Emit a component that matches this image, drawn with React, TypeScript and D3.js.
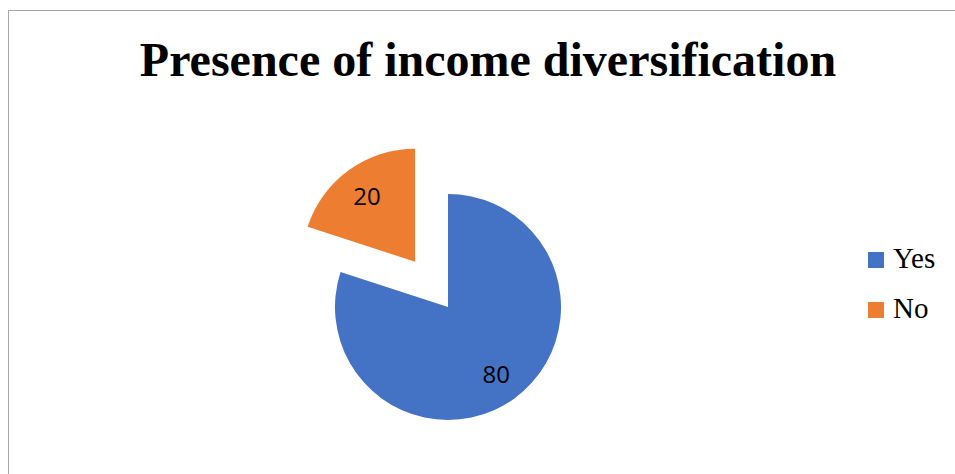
import React from "react";
import * as d3 from "d3";

const categories = ["Yes", "No"];
const values = [80, 20];
const colors = ["#4472C4", "#ED7D31"];
const title = "Presence of income diversification";

export default function App() {
  const W = 955, H = 474;
  const cx = 448, cy = 307, r = 113, explode = 56;
  const pie = d3.pie<number>().sort(null).value((d) => d);
  const arcs = pie(values);
  const arc = d3.arc<d3.PieArcDatum<number>>().innerRadius(0).outerRadius(r);
  const labelArc = d3.arc<d3.PieArcDatum<number>>().innerRadius(164).outerRadius(0);
  return (
    <svg width={W} height={H} style={{ position: "absolute", left: 0, top: 0 }}>
      <rect x={0} y={0} width={W} height={H} fill="#fff" />
      <rect x={8.5} y={10.5} width={W + 10} height={H + 10} fill="none" stroke="#A6A6A6" strokeWidth={1} />
      <text x={488} y={76} textAnchor="middle" fontFamily="'Liberation Serif', 'Times New Roman', serif" fontWeight="bold" fontSize={48} fill="#000">
        {title}
      </text>
      {arcs.map((a, i) => {
        const mid = (a.startAngle + a.endAngle) / 2;
        const off = i === 1 ? explode : 0;
        const ox = Math.sin(mid) * off;
        const oy = -Math.cos(mid) * off;
        const [lx, ly] = labelArc.centroid(a);
        return (
          <g key={categories[i]} transform={`translate(${cx + ox},${cy + oy})`}>
            <path d={arc(a) || ""} fill={colors[i]} />
            <text x={lx} y={ly} textAnchor="middle" dominantBaseline="central" fontFamily="'Open Sans', sans-serif" fontSize={24} fill="#000">
              {values[i]}
            </text>
          </g>
        );
      })}
      {categories.map((c, i) => (
        <g key={c} transform={`translate(868,${252 + i * 50})`}>
          <rect x={0} y={0} width={16} height={16} fill={colors[i]} />
          <text x={25} y={16} fontFamily="'Liberation Serif', 'Times New Roman', serif" fontSize={29} fill="#000">
            {c}
          </text>
        </g>
      ))}
    </svg>
  );
}
